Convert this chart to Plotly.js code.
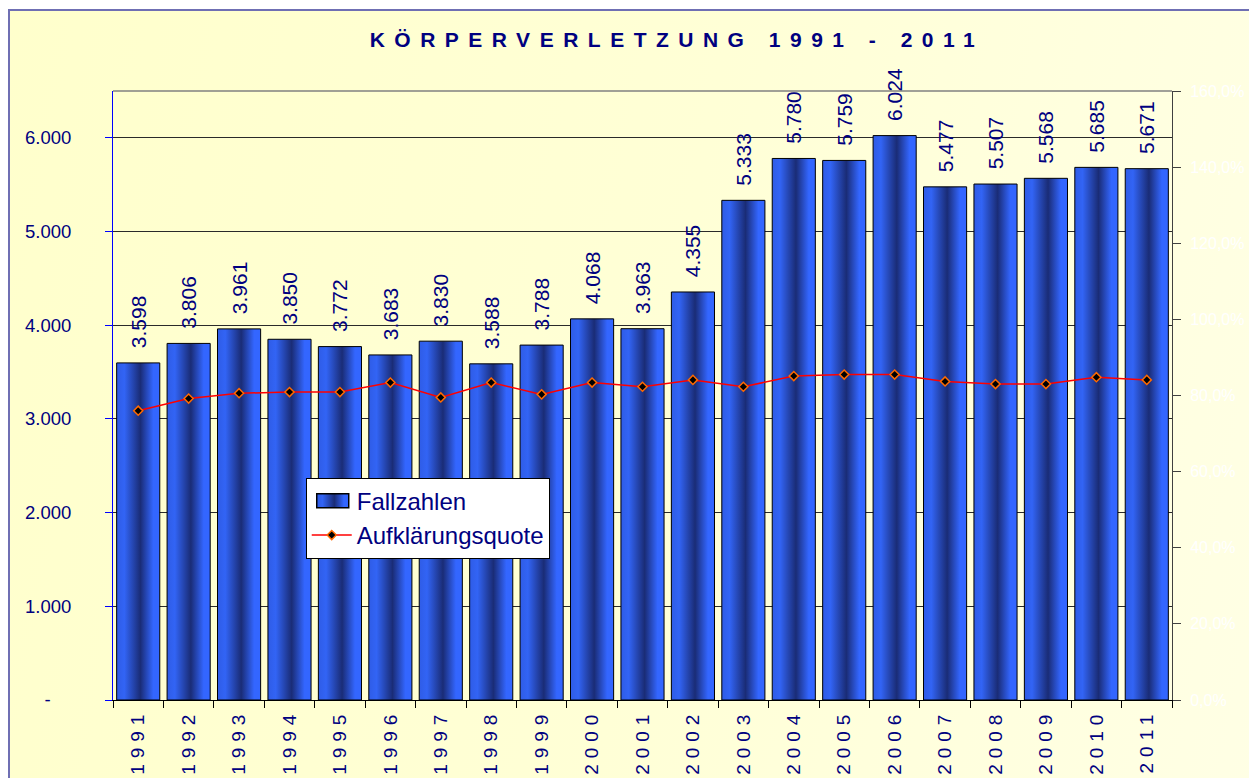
<!DOCTYPE html>
<html>
<head>
<meta charset="utf-8">
<script src="https://cdn.plot.ly/plotly-3.0.1.min.js"></script>
<style>
  html, body { margin: 0; padding: 0; background: #ffffff; overflow: hidden; }
  #frame {
    position: absolute; left: 8px; top: 9px; width: 1300px; height: 820px;
    border: 2px solid #6f6fb3; box-sizing: border-box;
    background: linear-gradient(100deg, #ffffcc 0%, #ffffd6 50%, #ffffe6 100%);
  }
  #chart { position: absolute; left: 0; top: 0; width: 1249px; height: 778px; }
  .gtitle { letter-spacing: 9.5px; }
  .xtick text { letter-spacing: 6px; }
</style>
</head>
<body>
<div id="frame"></div>
<div id="chart"></div>
<script>
// ---- data ----
const years = ["1991","1992","1993","1994","1995","1996","1997","1998","1999","2000",
               "2001","2002","2003","2004","2005","2006","2007","2008","2009","2010","2011"];
const fallzahlen = [3598,3806,3961,3850,3772,3683,3830,3588,3788,4068,
                    3963,4355,5333,5780,5759,6024,5477,5507,5568,5685,5671];
const aufklaerungsquote = [76.0,79.2,80.6,80.9,80.9,83.4,79.5,83.4,80.3,83.4,
                           82.3,84.1,82.3,85.1,85.5,85.5,83.7,83.0,83.0,84.8,84.1];
const leftTickVals = [0,1000,2000,3000,4000,5000,6000];
const leftTickText = ["-\u00a0\u00a0\u00a0\u00a0","1.000","2.000","3.000","4.000","5.000","6.000"];

const FONT = "Arial, 'Liberation Sans', sans-serif";
const NAVY = "#000080";

const traces = [
  {
    type: "bar", name: "Fallzahlen", x: years, y: fallzahlen,
    marker: { color: "#2a52d8", line: { color: "#000000", width: 1 } },
    texttemplate: "\u00a0\u00a0%{y:,.0f}", textposition: "outside",
    textangle: -90, constraintext: "none", cliponaxis: false,
    textfont: { family: FONT, size: 21, color: NAVY },
    hoverinfo: "x+y"
  },
  {
    type: "scatter", mode: "lines+markers", name: "Aufklärungsquote",
    x: years, y: aufklaerungsquote, yaxis: "y2",
    line: { color: "#ff0000", width: 1.5 },
    marker: { symbol: "diamond", size: 7, color: "#000000", line: { color: "#ff6a00", width: 1.5 } }
  }
];

const layout = {
  width: 1249, height: 778,
  margin: { l: 113, r: 77, t: 91, b: 78 },
  paper_bgcolor: "rgba(0,0,0,0)", plot_bgcolor: "rgba(0,0,0,0)",
  separators: ",.",
  font: { family: FONT, color: NAVY },
  title: {
    text: "<b>KÖRPERVERLETZUNG 1991 - 2011</b>",
    font: { family: FONT, size: 21, color: NAVY },
    x: 0.542, xref: "container", xanchor: "center",
    y: 0.949, yref: "container", yanchor: "middle"
  },
  bargap: 0.145,
  showlegend: true,
  legend: {
    x: 0.182, y: 0.365, xanchor: "left", yanchor: "top",
    bgcolor: "#ffffff", bordercolor: "#000000", borderwidth: 1,
    font: { family: FONT, size: 24, color: NAVY },
    traceorder: "normal", itemwidth: 40
  },
  xaxis: {
    type: "category", range: [-0.5, 20.5], tickson: "boundaries",
    ticks: "outside", ticklen: 7, tickcolor: "#000000",
    showline: true, linecolor: "#000000", linewidth: 1,
    tickangle: -90, tickfont: { family: FONT, size: 19, color: NAVY },
    showgrid: false, zeroline: false, fixedrange: true
  },
  yaxis: {
    range: [0, 6500], tickvals: leftTickVals, ticktext: leftTickText,
    ticks: "outside", ticklen: 7, tickcolor: "#0000ff",
    showline: true, linecolor: "#0000ff", linewidth: 1,
    showgrid: true, gridcolor: "#2a2a2a", gridwidth: 1,
    zeroline: false, ticklabelstandoff: 30,
    tickfont: { family: FONT, size: 18.5, color: NAVY }, fixedrange: true
  },
  yaxis2: {
    overlaying: "y", side: "right", range: [0, 160], dtick: 20, tick0: 0,
    tickformat: ".1f", ticksuffix: "%",
    ticks: "outside", ticklen: 8, tickcolor: "#404040",
    showline: true, linecolor: "#404040", linewidth: 1,
    showgrid: false, zeroline: false, ticklabelstandoff: 6,
    tickfont: { family: FONT, size: 16, color: "#ffffff" }, fixedrange: true
  },
  shapes: [
    { type: "line", xref: "paper", yref: "paper", x0: 0, x1: 1, y0: 1, y1: 1,
      line: { color: "#808080", width: 1.5 } }
  ]
};

Plotly.newPlot("chart", traces, layout, { displayModeBar: false, staticPlot: true }).then(function (gd) {
  // cylinder-like gradient for the bars
  const svg = gd.querySelector("svg.main-svg");
  const ns = "http://www.w3.org/2000/svg";
  let defs = svg.querySelector("defs");
  if (!defs) { defs = document.createElementNS(ns, "defs"); svg.insertBefore(defs, svg.firstChild); }
  const grad = document.createElementNS(ns, "linearGradient");
  grad.setAttribute("id", "barGrad");
  grad.setAttribute("x1", "0"); grad.setAttribute("x2", "1");
  grad.setAttribute("y1", "0"); grad.setAttribute("y2", "0");
  [["0", "#2f5ce6"], ["0.18", "#3264f5"], ["0.55", "#1a2c76"], ["0.85", "#3366ff"], ["1", "#3366ff"]].forEach(function (s) {
    const st = document.createElementNS(ns, "stop");
    st.setAttribute("offset", s[0]); st.setAttribute("stop-color", s[1]);
    grad.appendChild(st);
  });
  defs.appendChild(grad);
  gd.querySelectorAll(".barlayer .point path").forEach(function (p) { p.style.fill = "url(#barGrad)"; });
  // widen the bar swatch in the legend
  gd.querySelectorAll(".legend .legendpoints .legendbar path, .legend .legendpoints path.legendundefined").forEach(function (p) {
    p.setAttribute("d", "M17,7H-15V-7H17Z");
    p.style.fill = "url(#barGrad)";
    p.style.stroke = "#000000";
    p.style.strokeWidth = "1.5px";
  });
});
</script>
</body>
</html>
